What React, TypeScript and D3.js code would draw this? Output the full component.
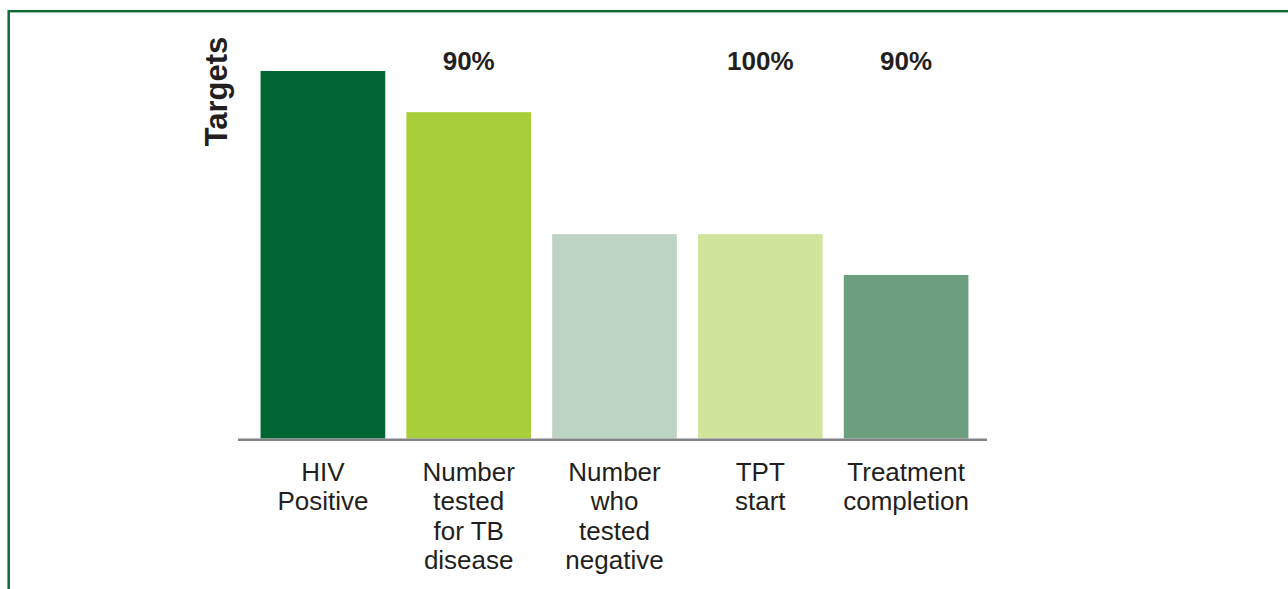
import React from "react";
import * as d3 from "d3";

// categories, with line breaks for the axis labels
const categories = [
  "HIV Positive",
  "Number tested for TB disease",
  "Number who tested negative",
  "TPT start",
  "Treatment completion",
];
const categoryLines = [
  ["HIV", "Positive"],
  ["Number", "tested", "for TB", "disease"],
  ["Number", "who", "tested", "negative"],
  ["TPT", "start"],
  ["Treatment", "completion"],
];
// relative bar heights (no numeric axis in the source)
const values = [100, 88.8, 55.6, 55.6, 44.5];
// target percentages written above the bars
const targetLabels = ["", "90%", "", "100%", "90%"];
const barColors = ["#006633", "#a8cf3a", "#bdd3c4", "#d1e49c", "#6c9f7f"];

const W = 1288;
const H = 589;
const FONT = "'Liberation Sans', Arial, Helvetica, sans-serif";
const TEXT = "#231f20";

export default function App() {
  const baseY = 438.5;

  const x = d3
    .scaleBand<string>()
    .domain(categories)
    .range([250, 979])
    .paddingInner(0.145)
    .paddingOuter(0.0725);

  const y = d3.scaleLinear().domain([0, 100]).range([baseY, 71]);

  return (
    <svg
      width={W}
      height={H}
      style={{ position: "absolute", left: 0, top: 0, display: "block", background: "#fff" }}
      fontFamily={FONT}
    >
      {/* frame */}
      <rect x={8.7} y={11.2} width={1400} height={800} fill="none" stroke="#0e6b37" strokeWidth={2.5} />

      {/* y title */}
      <text
        transform={`translate(226.5, 91.5) rotate(-90)`}
        textAnchor="middle"
        fontSize={31}
        fontWeight="bold"
        fill={TEXT}
      >
        Targets
      </text>

      {/* bars */}
      {categories.map((c, i) => (
        <rect
          key={c}
          x={x(c)}
          y={y(values[i])}
          width={x.bandwidth()}
          height={baseY - y(values[i])}
          fill={barColors[i]}
        />
      ))}

      {/* baseline */}
      <line x1={238} x2={987} y1={439.7} y2={439.7} stroke="#808285" strokeWidth={2.5} />

      {/* target labels */}
      {categories.map((c, i) =>
        targetLabels[i] ? (
          <text
            key={"t" + c}
            x={(x(c) as number) + x.bandwidth() / 2}
            y={70}
            textAnchor="middle"
            fontSize={26}
            fontWeight="bold"
            fill={TEXT}
          >
            {targetLabels[i]}
          </text>
        ) : null
      )}

      {/* category labels */}
      {categories.map((c, i) => (
        <text
          key={"c" + c}
          x={(x(c) as number) + x.bandwidth() / 2}
          y={480.5}
          textAnchor="middle"
          fontSize={26}
          fill={TEXT}
        >
          {categoryLines[i].map((l, j) => (
            <tspan key={j} x={(x(c) as number) + x.bandwidth() / 2} dy={j === 0 ? 0 : 29.5}>
              {l}
            </tspan>
          ))}
        </text>
      ))}
    </svg>
  );
}
